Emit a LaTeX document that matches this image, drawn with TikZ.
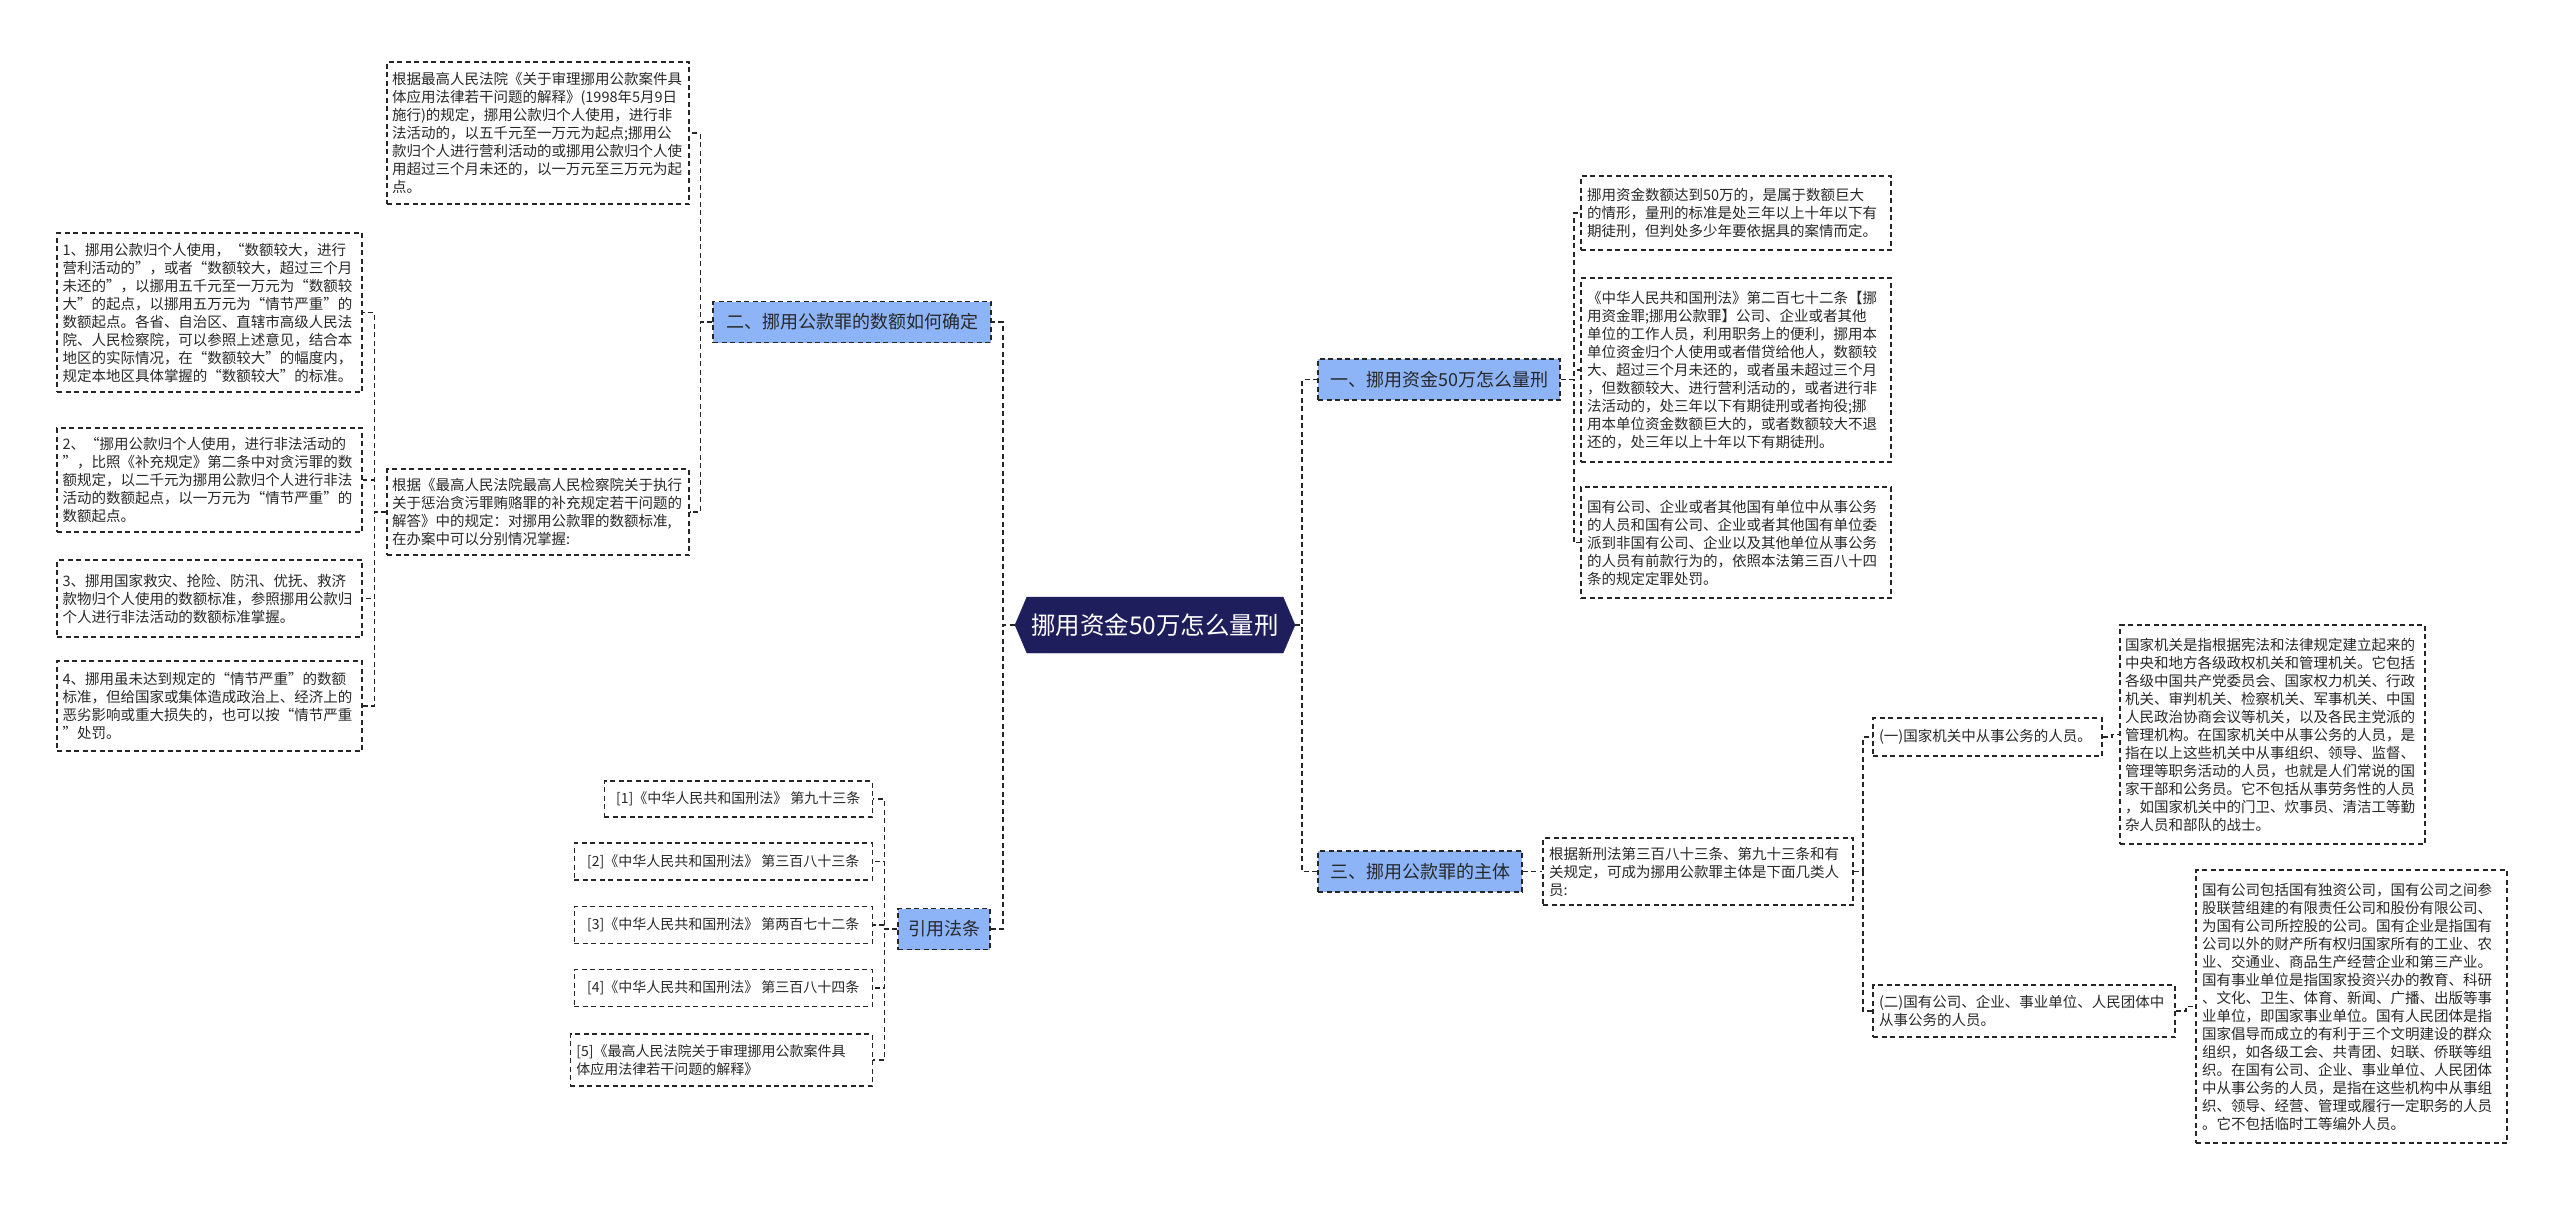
\documentclass[tikz,border=0pt]{standalone}
\usepackage{fontspec}
\setmainfont{Noto Sans CJK SC}
\usepackage{tikz}
\usetikzlibrary{shapes.symbols}
\definecolor{hubnavy}{RGB}{31,30,92}
\definecolor{branchblue}{RGB}{140,180,247}
\definecolor{linegray}{RGB}{38,38,38}
\definecolor{txtgray}{RGB}{40,40,40}

\begin{document}
\begin{tikzpicture}[x=1pt, y=-1pt,
every node/.style = {text=txtgray},
       box/.style = {draw=linegray, dash pattern=on 5pt off 3.5pt, line width=1.4pt,
                     fill=white, align=left, inner sep=4pt,
                     font=\fontsize{14.5}{18}\selectfont},
      cbox/.style = {box, font=\fontsize{14}{18}\selectfont},
    branch/.style = {draw=linegray, dash pattern=on 5pt off 3.5pt, line width=1.4pt,
                     fill=branchblue, minimum height=41pt, inner sep=0pt,
                     font=\fontsize{18}{22}\selectfont},
       hub/.style = {signal, signal to=east and west, signal pointer angle=134,
                     fill=hubnavy, draw=hubnavy, text=white, inner sep=0pt,
                     minimum width=280pt, minimum height=56pt,
                     font=\fontsize{24.5}{28}\selectfont},
      link/.style = {draw=linegray, line width=1.6pt, dash pattern=on 5pt off 3.5pt}
                    ]
\fill[white] (0,0) rectangle (2560,1207);
\useasboundingbox (0,0) rectangle (2560,1207);

\node[hub] (ctr) at (1155,625) {挪用资金50万怎么量刑};

\node[branch, minimum width=278pt] (b2)   at (852,322) {二、挪用公款罪的数额如何确定};
\node[branch, minimum width=92pt]  (cite) at (944,929) {引用法条};
\node[branch, minimum width=242pt] (b1)   at (1439,379.5) {一、挪用资金50万怎么量刑};
\node[branch, minimum width=204pt] (b3)   at (1420,871.5) {三、挪用公款罪的主体};

\node[box, text width=292pt, minimum width=302pt, minimum height=142pt] (tl) at (538,133)
  {根据最高人民法院《关于审理挪用公款案件具\\体应用法律若干问题的解释》(1998年5月9日\\施行)的规定，挪用公款归个人使用，进行非\\法活动的，以五千元至一万元为起点;挪用公\\款归个人进行营利活动的或挪用公款归个人使\\用超过三个月未还的，以一万元至三万元为起\\点。};
\node[box, text width=292pt, minimum width=302pt, minimum height=86pt] (sup) at (538,512)
  {根据《最高人民法院最高人民检察院关于执行\\关于惩治贪污罪贿赂罪的补充规定若干问题的\\解答》中的规定：对挪用公款罪的数额标准,\\在办案中可以分别情况掌握:};

\node[box, text width=294pt, minimum width=305pt, minimum height=159pt] (n1) at (209.5,312.5)
  {1、挪用公款归个人使用，“数额较大，进行\\营利活动的”，或者“数额较大，超过三个月\\未还的”，以挪用五千元至一万元为“数额较\\大”的起点，以挪用五万元为“情节严重”的\\数额起点。各省、自治区、直辖市高级人民法\\院、人民检察院，可以参照上述意见，结合本\\地区的实际情况，在“数额较大”的幅度内，\\规定本地区具体掌握的“数额较大”的标准。};
\node[box, text width=294pt, minimum width=305pt, minimum height=104pt] (n2) at (209.5,480)
  {2、“挪用公款归个人使用，进行非法活动的\\”，比照《补充规定》第二条中对贪污罪的数\\额规定，以二千元为挪用公款归个人进行非法\\活动的数额起点，以一万元为“情节严重”的\\数额起点。};
\node[box, text width=294pt, minimum width=305pt, minimum height=77pt] (n3) at (209.5,598.5)
  {3、挪用国家救灾、抢险、防汛、优抚、救济\\款物归个人使用的数额标准，参照挪用公款归\\个人进行非法活动的数额标准掌握。};
\node[box, text width=294pt, minimum width=305pt, minimum height=90pt] (n4) at (209.5,706)
  {4、挪用虽未达到规定的“情节严重”的数额\\标准，但给国家或集体造成政治上、经济上的\\恶劣影响或重大损失的，也可以按“情节严重\\”处罚。};

\node[cbox, anchor=east, minimum width=268pt, minimum height=36pt] (c1) at (873,799)  {[1]《中华人民共和国刑法》 第九十三条};
\node[cbox, anchor=east, minimum width=298pt, minimum height=37pt] (c2) at (873,861.5) {[2]《中华人民共和国刑法》 第三百八十三条};
\node[cbox, anchor=east, minimum width=298pt, minimum height=37pt] (c3) at (873,925) {[3]《中华人民共和国刑法》 第两百七十二条};
\node[cbox, anchor=east, minimum width=298pt, minimum height=37pt] (c4) at (873,988) {[4]《中华人民共和国刑法》 第三百八十四条};
\node[cbox, anchor=east, text width=290pt, minimum width=302pt, minimum height=52pt] (c5) at (873,1060)
  {[5]《最高人民法院关于审理挪用公款案件具\\体应用法律若干问题的解释》};

\node[box, text width=298pt, minimum width=310pt, minimum height=74pt] (ra) at (1736,213)
  {挪用资金数额达到50万的，是属于数额巨大\\的情形，量刑的标准是处三年以上十年以下有\\期徒刑，但判处多少年要依据具的案情而定。};
\node[box, text width=298pt, minimum width=310pt, minimum height=184pt] (rb) at (1736,370)
  {《中华人民共和国刑法》第二百七十二条【挪\\用资金罪;挪用公款罪】公司、企业或者其他\\单位的工作人员，利用职务上的便利，挪用本\\单位资金归个人使用或者借贷给他人，数额较\\大、超过三个月未还的，或者虽未超过三个月\\，但数额较大、进行营利活动的，或者进行非\\法活动的，处三年以下有期徒刑或者拘役;挪\\用本单位资金数额巨大的，或者数额较大不退\\还的，处三年以上十年以下有期徒刑。};
\node[box, text width=298pt, minimum width=310pt, minimum height=111pt] (rc) at (1736,542.5)
  {国有公司、企业或者其他国有单位中从事公务\\的人员和国有公司、企业或者其他国有单位委\\派到非国有公司、企业以及其他单位从事公务\\的人员有前款行为的，依照本法第三百八十四\\条的规定定罪处罚。};

\node[box, text width=298pt, minimum width=310pt, minimum height=67pt] (rd) at (1698,871.5)
  {根据新刑法第三百八十三条、第九十三条和有\\关规定，可成为挪用公款罪主体是下面几类人\\员:};
\node[box, text width=217pt, minimum width=229pt, minimum height=38pt] (re) at (1987.5,737) {(一)国家机关中从事公务的人员。};
\node[box, text width=290pt, minimum width=302pt, minimum height=52pt] (rf) at (2024,1011)
  {(二)国有公司、企业、事业单位、人民团体中\\从事公务的人员。};
\node[box, text width=295pt, minimum width=305pt, minimum height=219pt] (rg) at (2272.5,734.5)
  {国家机关是指根据宪法和法律规定建立起来的\\中央和地方各级政权机关和管理机关。它包括\\各级中国共产党委员会、国家权力机关、行政\\机关、审判机关、检察机关、军事机关、中国\\人民政治协商会议等机关，以及各民主党派的\\管理机构。在国家机关中从事公务的人员，是\\指在以上这些机关中从事组织、领导、监督、\\管理等职务活动的人员，也就是人们常说的国\\家干部和公务员。它不包括从事劳务性的人员\\，如国家机关中的门卫、炊事员、清洁工等勤\\杂人员和部队的战士。};
\node[box, text width=299pt, minimum width=311pt, minimum height=273pt] (rh) at (2351.5,1006.5)
  {国有公司包括国有独资公司，国有公司之间参\\股联营组建的有限责任公司和股份有限公司、\\为国有公司所控股的公司。国有企业是指国有\\公司以外的财产所有权归国家所有的工业、农\\业、交通业、商品生产经营企业和第三产业。\\国有事业单位是指国家投资兴办的教育、科研\\、文化、卫生、体育、新闻、广播、出版等事\\业单位，即国家事业单位。国有人民团体是指\\国家倡导而成立的有利于三个文明建设的群众\\组织，如各级工会、共青团、妇联、侨联等组\\织。在国有公司、企业、事业单位、人民团体\\中从事公务的人员，是指在这些机构中从事组\\织、领导、经营、管理或履行一定职务的人员\\。它不包括临时工等编外人员。};

\draw[link] (ctr.west) -- ++(-12,0) |- (b2.east);
\draw[link] (ctr.west) -- ++(-12,0) |- (cite.east);
\draw[link] (ctr.east) -- ++(7,0) |- (b1.west);
\draw[link] (ctr.east) -- ++(7,0) |- (b3.west);
\foreach \n in {tl,sup}
  \draw[link] (b2.west) -- ++(-12,0) |- (\n.east);
\foreach \n in {n1,n2,n3,n4}
  \draw[link] (sup.west) -- ++(-12,0) |- (\n.east);
\foreach \i in {1,...,5}
  \draw[link] (cite.west) -- ++(-13,0) |- (c\i.east);
\foreach \n in {ra,rb,rc}
  \draw[link] (b1.east) -- ++(13,0) |- (\n.west);
\draw[link] (b3.east) -- (rd.west);
\foreach \n in {re,rf}
  \draw[link] (rd.east) -- ++(9,0) |- (\n.west);
\draw[link] (re.east) -- ++(9,0) |- (rg.west);
\draw[link] (rf.east) -- ++(10,0) |- (rh.west);
\end{tikzpicture}
\end{document}
